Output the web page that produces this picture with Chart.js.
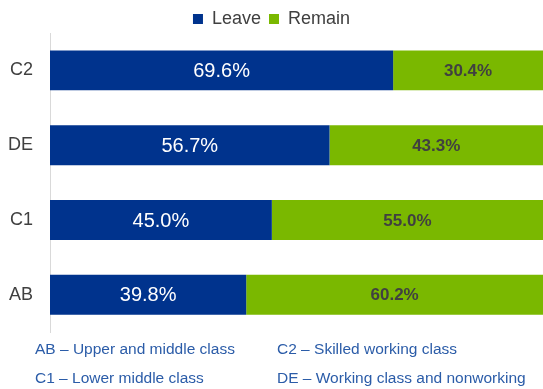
<!DOCTYPE html>
<html lang="en">
<head>
  <meta charset="UTF-8">
  <title>Leave / Remain by social grade</title>
  <script src="https://cdn.jsdelivr.net/npm/chart.js"></script>
  <style>
    body {
      margin: 0;
      background: #fff;
      font-family: 'Liberation Sans', Arial, sans-serif;
    }
    .wrap {
      position: relative;
      width: 543px;
      height: 389px;
      overflow: hidden;
    }
    .chart-box {
      position: absolute;
      left: 0;
      top: 0;
      width: 543px;
      height: 360px;
    }
    .note {
      position: absolute;
      font-size: 15.5px;
      line-height: 18px;
      color: #2b5ca8;
      white-space: nowrap;
    }
  </style>
</head>
<body>
  <div class="wrap">
    <div class="chart-box"><canvas id="gradeChart"></canvas></div>
    <div class="note" style="left:35px; top:340px">AB – Upper and middle class</div>
    <div class="note" style="left:277px; top:340px">C2 – Skilled working class</div>
    <div class="note" style="left:35px; top:369px">C1 – Lower middle class</div>
    <div class="note" style="left:277px; top:369px">DE – Working class and nonworking</div>
  </div>

  <script>
    const grades = ['C2', 'DE', 'C1', 'AB'];
    const leave = [69.6, 56.7, 45.0, 39.8];
    const remain = [30.4, 43.3, 55.0, 60.2];

    // centred % labels inside each segment
    const barLabels = {
      id: 'barLabels',
      afterDatasetsDraw(chart) {
        const ctx = chart.ctx;
        ctx.save();
        ctx.textAlign = 'center';
        ctx.textBaseline = 'middle';
        chart.data.datasets.forEach((ds, i) => {
          const meta = chart.getDatasetMeta(i);
          ctx.fillStyle = i === 0 ? '#ffffff' : '#404040';
          ctx.font = i === 0 ? '20px "Liberation Sans", Arial' : 'bold 17px "Liberation Sans", Arial';
          meta.data.forEach((bar, j) => {
            const p = bar.getProps(['x', 'y', 'base'], true);
            ctx.fillText(ds.data[j].toFixed(1) + '%', (p.x + p.base) / 2, p.y + 1);
          });
        });
        ctx.restore();
      }
    };

    // pull the plot a bit closer to the legend
    const legendGap = {
      id: 'legendGap',
      beforeInit(chart) {
        const lg = chart.legend;
        if (!lg) return;
        const fit = lg.fit;
        lg.fit = function () {
          fit.call(this);
          this.height -= 5;
        };
      }
    };

    new Chart(document.getElementById('gradeChart'), {
      type: 'bar',
      data: {
        labels: grades,
        datasets: [
          { label: 'Leave', data: leave, backgroundColor: '#00338d' },
          { label: 'Remain', data: remain, backgroundColor: '#7ab800' }
        ]
      },
      options: {
        indexAxis: 'y',
        responsive: true,
        maintainAspectRatio: false,
        animation: false,
        layout: { padding: { top: 2, right: 0, bottom: 2, left: 0 } },
        datasets: {
          bar: { barPercentage: 0.667, categoryPercentage: 0.8 }
        },
        scales: {
          x: { stacked: true, min: 0, max: 100, display: false },
          y: {
            stacked: true,
            afterFit(scale) { scale.width = 50; },
            grid: { display: true, drawOnChartArea: false, drawTicks: false },
            border: { display: true, color: '#d9d9d9' },
            ticks: { color: '#404040', font: { size: 18 }, padding: 17 }
          }
        },
        plugins: {
          legend: {
            position: 'top',
            labels: {
              boxWidth: 10,
              boxHeight: 10,
              color: '#404040',
              font: { size: 18 },
              padding: 8
            }
          },
          tooltip: { enabled: false }
        }
      },
      plugins: [barLabels, legendGap]
    });
  </script>
</body>
</html>
